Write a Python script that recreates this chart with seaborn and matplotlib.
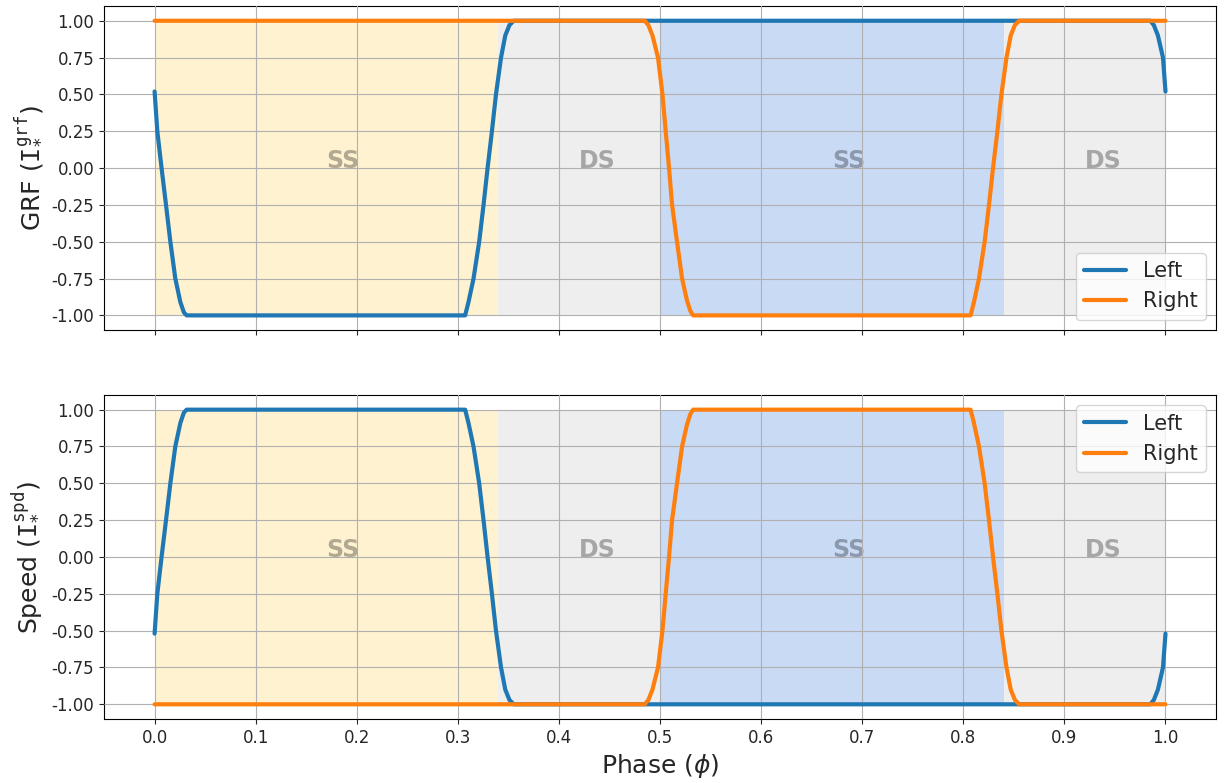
import matplotlib
matplotlib.use("Agg")
import matplotlib.pyplot as plt
import seaborn as sns
import pandas as pd

# ---------------- data ----------------
phase_left = [0.0, 0.0027, 0.0069, 0.0113, 0.0156, 0.0205, 0.0255, 0.0290, 0.0317,
              0.3072, 0.3105, 0.3155, 0.3211, 0.3254, 0.3294, 0.3337, 0.3377,
              0.3427, 0.3469, 0.3510, 0.3552,
              0.9850, 0.9885, 0.9925, 0.9975, 1.0]
grf_left = [0.52, 0.25, 0.0, -0.25, -0.50, -0.75, -0.91, -0.98, -1.0,
            -1.0, -0.91, -0.75, -0.50, -0.25, 0.0, 0.25, 0.50,
            0.75, 0.90, 0.97, 1.0,
            1.0, 0.97, 0.90, 0.75, 0.52]
spd_left = [-0.52, -0.25, 0.0, 0.25, 0.50, 0.75, 0.91, 0.98, 1.0,
            1.0, 0.91, 0.75, 0.50, 0.25, 0.0, -0.25, -0.50,
            -0.75, -0.90, -0.97, -1.0,
            -1.0, -0.97, -0.90, -0.75, -0.52]

phase_right = [0.0, 0.4849, 0.4885, 0.4925, 0.4980, 0.5024, 0.5056, 0.5089,
               0.5119, 0.5168, 0.5218, 0.5267, 0.5300, 0.5327,
               0.8072, 0.8105, 0.8155, 0.8211, 0.8254, 0.8294, 0.8337, 0.8377,
               0.8427, 0.8469, 0.8510, 0.8552, 1.0]
grf_right = [1.0, 1.0, 0.97, 0.90, 0.75, 0.50, 0.25, 0.0,
             -0.25, -0.50, -0.75, -0.90, -0.97, -1.0,
             -1.0, -0.91, -0.75, -0.50, -0.25, 0.0, 0.25, 0.50,
             0.75, 0.90, 0.97, 1.0, 1.0]
spd_right = [-1.0, -1.0, -0.97, -0.90, -0.75, -0.50, -0.25, 0.0,
             0.25, 0.50, 0.75, 0.90, 0.97, 1.0,
             1.0, 0.91, 0.75, 0.50, 0.25, 0.0, -0.25, -0.50,
             -0.75, -0.90, -0.97, -1.0, -1.0]

# gait phases: (start, end, label)
phase_starts = [0.0, 0.34, 0.5, 0.84]
phase_ends = [0.34, 0.5, 0.84, 1.0]
phase_labels = ["SS", "DS", "SS", "DS"]
phase_colors = ["#fef2d0", "#eeeeee", "#c9daf5", "#eeeeee"]

xticks = [0.0, 0.1, 0.2, 0.3, 0.4, 0.5, 0.6, 0.7, 0.8, 0.9, 1.0]
xticklabels = ["0.0", "0.1", "0.2", "0.3", "0.4", "0.5", "0.6", "0.7", "0.8", "0.9", "1.0"]
yticks = [-1.0, -0.75, -0.5, -0.25, 0.0, 0.25, 0.5, 0.75, 1.0]
yticklabels = ["-1.00", "-0.75", "-0.50", "-0.25", "0.00", "0.25", "0.50", "0.75", "1.00"]

series_names = ["Left", "Right"]
ylabels = [r"GRF ($\mathtt{I}^{\mathtt{grf}}_{*}$)", r"Speed ($\mathtt{I}^{\mathtt{spd}}_{*}$)"]
legend_locs = ["lower right", "upper right"]

# ---------------- plot ----------------
sns.set_style("ticks")
plt.rcParams["font.family"] = ["DejaVu Sans"]

fig, axes = plt.subplots(2, 1, sharex=True, figsize=(12.24, 7.83), dpi=100)
fig.subplots_adjust(left=0.085, right=0.9935, top=0.9923, bottom=0.0817, hspace=0.2)

panels = [
    (grf_left, grf_right),
    (spd_left, spd_right),
]

for ax, (yl, yr), ylab, lloc in zip(axes, panels, ylabels, legend_locs):
    for s, e, lab, col in zip(phase_starts, phase_ends, phase_labels, phase_colors):
        ax.fill_between([s, e], -1, 1, color=col, linewidth=0, zorder=0.5)
        ax.text((s + e) / 2, 0, lab, fontsize=17, fontweight="bold",
                color="black", alpha=0.3, zorder=1)
    df_l = pd.DataFrame({"phase": phase_left, "value": yl})
    df_r = pd.DataFrame({"phase": phase_right, "value": yr})
    sns.lineplot(data=df_l, x="phase", y="value", ax=ax, color="#1f77b4",
                 linewidth=3, label=series_names[0], zorder=3)
    sns.lineplot(data=df_r, x="phase", y="value", ax=ax, color="#ff7f0e",
                 linewidth=3, label=series_names[1], zorder=3)
    ax.set_ylim(-1.1, 1.1)
    ax.set_xlim(-0.05, 1.05)
    ax.set_yticks(yticks)
    ax.set_yticklabels(yticklabels)
    ax.set_xticks(xticks)
    ax.set_xticklabels(xticklabels)
    ax.tick_params(labelsize=12)
    ax.grid(True, color="#b0b0b0", linewidth=0.8)
    ax.set_axisbelow(False)
    ax.set_ylabel(ylab, fontsize=18, labelpad=6)
    ax.set_xlabel("")
    for sp in ax.spines.values():
        sp.set_visible(True)
        sp.set_color("black")
    ax.legend(loc=lloc, fontsize=15)

axes[0].tick_params(labelbottom=False)
axes[1].set_xlabel(r"Phase ($\phi$)", fontsize=18)

fig.savefig("out.png", dpi=100)
